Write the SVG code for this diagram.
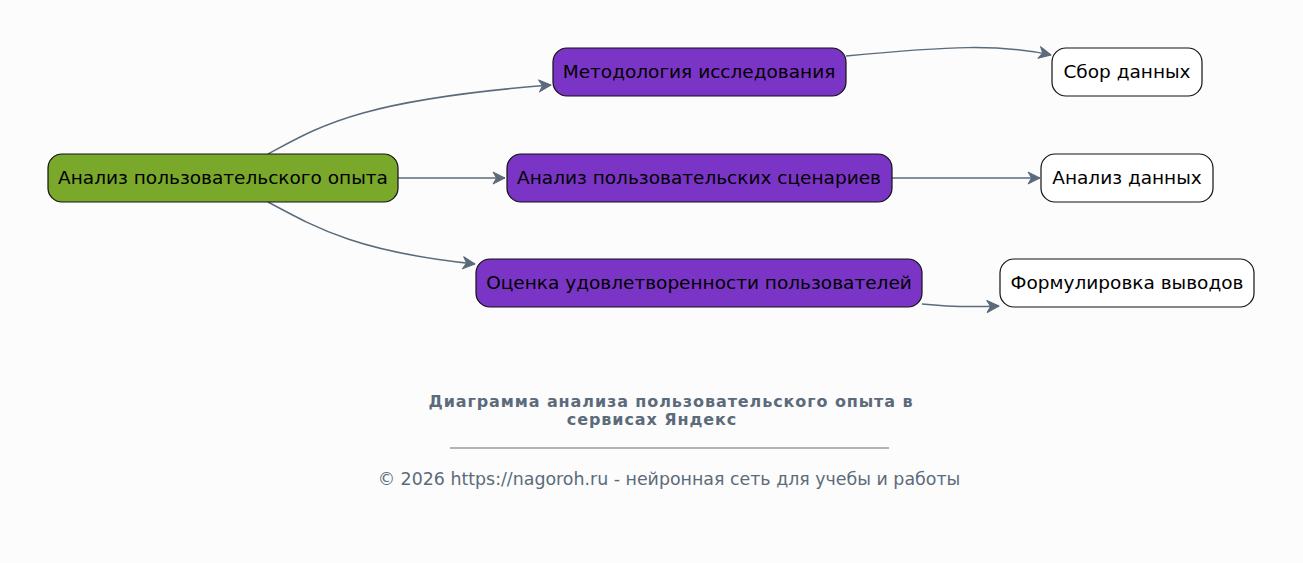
<svg xmlns="http://www.w3.org/2000/svg" width="1303" height="563" viewBox="0 0 1303 563">
<style>
.n rect{stroke:#111;stroke-width:1.2}
.n text{font-family:"DejaVu Sans",sans-serif;font-size:18.5px;fill:#000;text-anchor:middle;dominant-baseline:central}
.e path{fill:none;stroke:#5b6b7b;stroke-width:1.5;marker-end:url(#a)}
.t{font-family:"DejaVu Sans",sans-serif;font-size:17.4px;fill:#5b6b7b;text-anchor:middle}
.h{font-family:"DejaVu Sans",sans-serif;font-size:16px;font-weight:bold;letter-spacing:0.9px;fill:#5b6b7b;text-anchor:middle}
</style>
<defs>
<marker id="a" viewBox="0 0 14 14" refX="13" refY="7" markerWidth="14" markerHeight="14" markerUnits="userSpaceOnUse" orient="auto">
<path d="M1,1 L13,7 L1,13 L4.5,7 Z" fill="#5b6b7b" stroke="#5b6b7b" stroke-width="1" stroke-linejoin="round"/>
</marker>
</defs>
<rect width="1303" height="563" fill="#fcfcfc"/>
<g id="connectors" class="e">
<path d="M268,154 C320,126 360,100 551,85"/>
<path d="M398,178 L505,178"/>
<path d="M268,202 C320,230 360,252 475,264"/>
<path d="M846,56 C950,46 1000,44 1051,55"/>
<path d="M892,178 L1040,178"/>
<path d="M922,304 C950,307 975,307 999,306"/>
</g>
<g id="root" class="n"><rect x="48" y="154" width="350" height="48" rx="14" fill="#79a82b"/><text x="223" y="177">Анализ пользовательского опыта</text></g>
<g id="method" class="n"><rect x="553" y="48" width="293" height="48" rx="14" fill="#7b35c6"/><text x="699" y="71">Методология исследования</text></g>
<g id="scen" class="n"><rect x="507" y="154" width="385" height="48" rx="14" fill="#7b35c6"/><text x="699" y="177">Анализ пользовательских сценариев</text></g>
<g id="satisf" class="n"><rect x="476" y="259" width="446" height="48" rx="14" fill="#7b35c6"/><text x="699" y="282">Оценка удовлетворенности пользователей</text></g>
<g id="collect" class="n"><rect x="1052" y="48" width="150" height="48" rx="14" fill="#fff"/><text x="1127" y="71">Сбор данных</text></g>
<g id="analysis" class="n"><rect x="1041" y="154" width="172" height="48" rx="14" fill="#fff"/><text x="1127" y="177">Анализ данных</text></g>
<g id="concl" class="n"><rect x="1000" y="259" width="254" height="48" rx="14" fill="#fff"/><text x="1127" y="282">Формулировка выводов</text></g>
<g id="title">
<text class="h" x="671" y="407">Диаграмма анализа пользовательского опыта в</text>
<text class="h" x="652" y="425">сервисах Яндекс</text>
<line x1="450" y1="448" x2="889" y2="448" stroke="#5b6b7b" stroke-width="1"/>
<text class="t" x="669" y="485">© 2026 https://nagoroh.ru - нейронная сеть для учебы и работы</text>
</g>
</svg>
